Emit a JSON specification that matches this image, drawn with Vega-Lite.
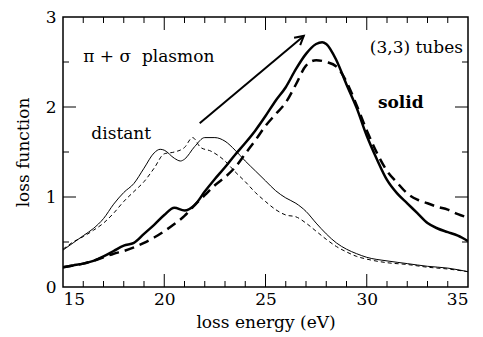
{
  "$schema": "https://vega.github.io/schema/vega-lite/v6.json",
  "width": 405,
  "height": 270,
  "autosize": "none",
  "padding": {"left": 63, "top": 17, "right": 15, "bottom": 50},
  "background": "white",
  "config": {
    "view": {"stroke": "black", "strokeWidth": 1.5},
    "axis": {"grid": false, "domain": false, "ticks": false, "labelColor": "black", "titleColor": "black", "labelFont": "DejaVu Serif", "titleFont": "DejaVu Serif", "labelFontSize": 17, "titleFontSize": 17, "titleFontWeight": "normal"}
  },
  "datasets": {
    "curves": [
      {"x":15,"y":0.22,"s":"solid"},{"x":15.5,"y":0.24,"s":"solid"},{"x":16,"y":0.26,"s":"solid"},{"x":16.5,"y":0.29,"s":"solid"},{"x":17,"y":0.34,"s":"solid"},{"x":17.5,"y":0.40,"s":"solid"},{"x":18,"y":0.46,"s":"solid"},{"x":18.5,"y":0.49,"s":"solid"},{"x":19,"y":0.59,"s":"solid"},{"x":19.5,"y":0.69,"s":"solid"},{"x":20,"y":0.80,"s":"solid"},{"x":20.5,"y":0.88,"s":"solid"},{"x":21,"y":0.85,"s":"solid"},{"x":21.5,"y":0.91,"s":"solid"},{"x":22,"y":1.06,"s":"solid"},{"x":22.5,"y":1.20,"s":"solid"},{"x":23,"y":1.33,"s":"solid"},{"x":23.5,"y":1.47,"s":"solid"},{"x":24,"y":1.60,"s":"solid"},{"x":24.5,"y":1.74,"s":"solid"},{"x":25,"y":1.90,"s":"solid"},{"x":25.5,"y":2.07,"s":"solid"},{"x":26,"y":2.22,"s":"solid"},{"x":26.5,"y":2.42,"s":"solid"},{"x":27,"y":2.59,"s":"solid"},{"x":27.5,"y":2.70,"s":"solid"},{"x":27.8,"y":2.72,"s":"solid"},{"x":28,"y":2.70,"s":"solid"},{"x":28.5,"y":2.52,"s":"solid"},{"x":29,"y":2.25,"s":"solid"},{"x":29.5,"y":1.99,"s":"solid"},{"x":30,"y":1.68,"s":"solid"},{"x":30.5,"y":1.42,"s":"solid"},{"x":31,"y":1.19,"s":"solid"},{"x":31.5,"y":1.04,"s":"solid"},{"x":32,"y":0.93,"s":"solid"},{"x":32.5,"y":0.82,"s":"solid"},{"x":33,"y":0.71,"s":"solid"},{"x":33.5,"y":0.65,"s":"solid"},{"x":34,"y":0.61,"s":"solid"},{"x":34.5,"y":0.57,"s":"solid"},{"x":35,"y":0.51,"s":"solid"},
      {"x":15,"y":0.22,"s":"solid2"},{"x":15.5,"y":0.24,"s":"solid2"},{"x":16,"y":0.26,"s":"solid2"},{"x":16.5,"y":0.29,"s":"solid2"},{"x":17,"y":0.33,"s":"solid2"},{"x":17.5,"y":0.37,"s":"solid2"},{"x":18,"y":0.40,"s":"solid2"},{"x":18.5,"y":0.44,"s":"solid2"},{"x":19,"y":0.49,"s":"solid2"},{"x":19.5,"y":0.55,"s":"solid2"},{"x":20,"y":0.62,"s":"solid2"},{"x":20.5,"y":0.70,"s":"solid2"},{"x":21,"y":0.79,"s":"solid2"},{"x":21.5,"y":0.91,"s":"solid2"},{"x":22,"y":1.02,"s":"solid2"},{"x":22.5,"y":1.13,"s":"solid2"},{"x":23,"y":1.22,"s":"solid2"},{"x":23.5,"y":1.33,"s":"solid2"},{"x":24,"y":1.48,"s":"solid2"},{"x":24.5,"y":1.63,"s":"solid2"},{"x":25,"y":1.79,"s":"solid2"},{"x":25.5,"y":1.92,"s":"solid2"},{"x":26,"y":2.05,"s":"solid2"},{"x":26.5,"y":2.25,"s":"solid2"},{"x":27,"y":2.46,"s":"solid2"},{"x":27.5,"y":2.52,"s":"solid2"},{"x":28,"y":2.50,"s":"solid2"},{"x":28.5,"y":2.45,"s":"solid2"},{"x":29,"y":2.28,"s":"solid2"},{"x":29.5,"y":2.02,"s":"solid2"},{"x":30,"y":1.74,"s":"solid2"},{"x":30.5,"y":1.49,"s":"solid2"},{"x":31,"y":1.29,"s":"solid2"},{"x":31.5,"y":1.16,"s":"solid2"},{"x":32,"y":1.04,"s":"solid2"},{"x":32.5,"y":0.97,"s":"solid2"},{"x":33,"y":0.93,"s":"solid2"},{"x":33.5,"y":0.89,"s":"solid2"},{"x":34,"y":0.86,"s":"solid2"},{"x":34.5,"y":0.81,"s":"solid2"},{"x":35,"y":0.77,"s":"solid2"},
      {"x":15,"y":0.41,"s":"distant"},{"x":15.5,"y":0.49,"s":"distant"},{"x":16,"y":0.57,"s":"distant"},{"x":16.5,"y":0.65,"s":"distant"},{"x":17,"y":0.76,"s":"distant"},{"x":17.5,"y":0.92,"s":"distant"},{"x":18,"y":1.05,"s":"distant"},{"x":18.5,"y":1.15,"s":"distant"},{"x":19,"y":1.32,"s":"distant"},{"x":19.5,"y":1.49,"s":"distant"},{"x":19.8,"y":1.53,"s":"distant"},{"x":20,"y":1.52,"s":"distant"},{"x":20.5,"y":1.43,"s":"distant"},{"x":20.8,"y":1.40,"s":"distant"},{"x":21,"y":1.42,"s":"distant"},{"x":21.5,"y":1.56,"s":"distant"},{"x":22,"y":1.66,"s":"distant"},{"x":22.5,"y":1.66,"s":"distant"},{"x":23,"y":1.62,"s":"distant"},{"x":23.5,"y":1.52,"s":"distant"},{"x":24,"y":1.40,"s":"distant"},{"x":24.5,"y":1.29,"s":"distant"},{"x":25,"y":1.18,"s":"distant"},{"x":25.5,"y":1.07,"s":"distant"},{"x":26,"y":0.99,"s":"distant"},{"x":26.5,"y":0.93,"s":"distant"},{"x":27,"y":0.84,"s":"distant"},{"x":27.5,"y":0.71,"s":"distant"},{"x":28,"y":0.59,"s":"distant"},{"x":28.5,"y":0.49,"s":"distant"},{"x":29,"y":0.42,"s":"distant"},{"x":29.5,"y":0.37,"s":"distant"},{"x":30,"y":0.33,"s":"distant"},{"x":31,"y":0.29,"s":"distant"},{"x":32,"y":0.26,"s":"distant"},{"x":33,"y":0.23,"s":"distant"},{"x":34,"y":0.21,"s":"distant"},{"x":35,"y":0.17,"s":"distant"},
      {"x":15,"y":0.42,"s":"distant2"},{"x":15.5,"y":0.50,"s":"distant2"},{"x":16,"y":0.56,"s":"distant2"},{"x":16.5,"y":0.63,"s":"distant2"},{"x":17,"y":0.71,"s":"distant2"},{"x":17.5,"y":0.82,"s":"distant2"},{"x":18,"y":0.95,"s":"distant2"},{"x":18.5,"y":1.06,"s":"distant2"},{"x":19,"y":1.17,"s":"distant2"},{"x":19.5,"y":1.32,"s":"distant2"},{"x":20,"y":1.48,"s":"distant2"},{"x":20.5,"y":1.50,"s":"distant2"},{"x":21,"y":1.55,"s":"distant2"},{"x":21.4,"y":1.66,"s":"distant2"},{"x":21.8,"y":1.55,"s":"distant2"},{"x":22.3,"y":1.51,"s":"distant2"},{"x":23,"y":1.40,"s":"distant2"},{"x":23.5,"y":1.28,"s":"distant2"},{"x":24,"y":1.17,"s":"distant2"},{"x":24.5,"y":1.05,"s":"distant2"},{"x":25,"y":0.95,"s":"distant2"},{"x":25.5,"y":0.86,"s":"distant2"},{"x":26,"y":0.80,"s":"distant2"},{"x":26.5,"y":0.78,"s":"distant2"},{"x":27,"y":0.71,"s":"distant2"},{"x":27.5,"y":0.62,"s":"distant2"},{"x":28,"y":0.53,"s":"distant2"},{"x":28.5,"y":0.45,"s":"distant2"},{"x":29,"y":0.39,"s":"distant2"},{"x":29.5,"y":0.34,"s":"distant2"},{"x":30,"y":0.31,"s":"distant2"},{"x":31,"y":0.27,"s":"distant2"},{"x":32,"y":0.25,"s":"distant2"},{"x":33,"y":0.22,"s":"distant2"},{"x":34,"y":0.20,"s":"distant2"},{"x":35,"y":0.17,"s":"distant2"}
    ],
    "xMajor": [{"x":20,"y":0},{"x":25,"y":0},{"x":30,"y":0},{"x":20,"y":3},{"x":25,"y":3},{"x":30,"y":3}],
    "xMinor": [{"x":16,"y":0},{"x":17,"y":0},{"x":18,"y":0},{"x":19,"y":0},{"x":21,"y":0},{"x":22,"y":0},{"x":23,"y":0},{"x":24,"y":0},{"x":26,"y":0},{"x":27,"y":0},{"x":28,"y":0},{"x":29,"y":0},{"x":31,"y":0},{"x":32,"y":0},{"x":33,"y":0},{"x":34,"y":0},
               {"x":16,"y":3},{"x":17,"y":3},{"x":18,"y":3},{"x":19,"y":3},{"x":21,"y":3},{"x":22,"y":3},{"x":23,"y":3},{"x":24,"y":3},{"x":26,"y":3},{"x":27,"y":3},{"x":28,"y":3},{"x":29,"y":3},{"x":31,"y":3},{"x":32,"y":3},{"x":33,"y":3},{"x":34,"y":3}],
    "yMajor": [{"x":15,"y":1},{"x":15,"y":2},{"x":35,"y":1},{"x":35,"y":2}],
    "yMinor": [{"x":15,"y":0.5},{"x":15,"y":1.5},{"x":15,"y":2.5},{"x":35,"y":0.5},{"x":35,"y":1.5},{"x":35,"y":2.5}],
    "arrow": [{"x": 21.75, "y": 1.82, "x2": 26.89, "y2": 2.79}],
    "notes": [
      {"x": 16.0, "y": 2.56, "label": "π + σ\u00a0\u00a0plasmon"},
      {"x": 16.4, "y": 1.70, "label": "distant"}
    ],
    "notesRight": [{"x": 34.75, "y": 2.66, "label": "(3,3) tubes"}],
    "notesBold": [{"x": 30.55, "y": 2.05, "label": "solid"}]
  },
  "layer": [
    {
      "data": {"name": "curves"},
      "transform": [{"filter": "datum.s === 'solid'"}],
      "mark": {"type": "line", "color": "black", "strokeWidth": 2.5, "interpolate": "monotone", "clip": true},
      "encoding": {
        "x": {"field": "x", "type": "quantitative", "scale": {"domain": [15, 35], "nice": false},
              "axis": {"orient": "bottom", "values": [15, 20, 25, 30, 35], "format": "d", "labelPadding": 4, "title": "loss energy (eV)", "titlePadding": 7}},
        "y": {"field": "y", "type": "quantitative", "scale": {"domain": [0, 3], "nice": false},
              "axis": {"orient": "left", "values": [0, 1, 2, 3], "format": "d", "labelPadding": 7, "title": "loss function", "titlePadding": 13}}
      }
    },
    {
      "data": {"name": "curves"},
      "transform": [{"filter": "datum.s === 'solid2'"}],
      "mark": {"type": "line", "color": "black", "strokeWidth": 2.5, "strokeDash": [10, 6], "interpolate": "monotone", "clip": true},
      "encoding": {"x": {"field": "x", "type": "quantitative"}, "y": {"field": "y", "type": "quantitative"}}
    },
    {
      "data": {"name": "curves"},
      "transform": [{"filter": "datum.s === 'distant'"}],
      "mark": {"type": "line", "color": "black", "strokeWidth": 1, "interpolate": "monotone", "clip": true},
      "encoding": {"x": {"field": "x", "type": "quantitative"}, "y": {"field": "y", "type": "quantitative"}}
    },
    {
      "data": {"name": "curves"},
      "transform": [{"filter": "datum.s === 'distant2'"}],
      "mark": {"type": "line", "color": "black", "strokeWidth": 1, "strokeDash": [4, 3], "interpolate": "monotone", "clip": true},
      "encoding": {"x": {"field": "x", "type": "quantitative"}, "y": {"field": "y", "type": "quantitative"}}
    },
    {
      "data": {"name": "xMajor"},
      "transform": [{"filter": "datum.y === 0"}],
      "mark": {"type": "point", "shape": "M 0 0 L 0 -1", "filled": false, "stroke": "black", "strokeWidth": 1, "size": 676, "opacity": 1},
      "encoding": {"x": {"field": "x", "type": "quantitative"}, "y": {"field": "y", "type": "quantitative"}}
    },
    {
      "data": {"name": "xMajor"},
      "transform": [{"filter": "datum.y === 3"}],
      "mark": {"type": "point", "shape": "M 0 0 L 0 1", "filled": false, "stroke": "black", "strokeWidth": 1, "size": 676, "opacity": 1},
      "encoding": {"x": {"field": "x", "type": "quantitative"}, "y": {"field": "y", "type": "quantitative"}}
    },
    {
      "data": {"name": "xMinor"},
      "transform": [{"filter": "datum.y === 0"}],
      "mark": {"type": "point", "shape": "M 0 0 L 0 -1", "filled": false, "stroke": "black", "strokeWidth": 1, "size": 144, "opacity": 1},
      "encoding": {"x": {"field": "x", "type": "quantitative"}, "y": {"field": "y", "type": "quantitative"}}
    },
    {
      "data": {"name": "xMinor"},
      "transform": [{"filter": "datum.y === 3"}],
      "mark": {"type": "point", "shape": "M 0 0 L 0 1", "filled": false, "stroke": "black", "strokeWidth": 1, "size": 144, "opacity": 1},
      "encoding": {"x": {"field": "x", "type": "quantitative"}, "y": {"field": "y", "type": "quantitative"}}
    },
    {
      "data": {"name": "yMajor"},
      "transform": [{"filter": "datum.x === 15"}],
      "mark": {"type": "point", "shape": "M 0 0 L 1 0", "filled": false, "stroke": "black", "strokeWidth": 1, "size": 676, "opacity": 1},
      "encoding": {"x": {"field": "x", "type": "quantitative"}, "y": {"field": "y", "type": "quantitative"}}
    },
    {
      "data": {"name": "yMajor"},
      "transform": [{"filter": "datum.x === 35"}],
      "mark": {"type": "point", "shape": "M 0 0 L -1 0", "filled": false, "stroke": "black", "strokeWidth": 1, "size": 676, "opacity": 1},
      "encoding": {"x": {"field": "x", "type": "quantitative"}, "y": {"field": "y", "type": "quantitative"}}
    },
    {
      "data": {"name": "yMinor"},
      "transform": [{"filter": "datum.x === 15"}],
      "mark": {"type": "point", "shape": "M 0 0 L 1 0", "filled": false, "stroke": "black", "strokeWidth": 1, "size": 144, "opacity": 1},
      "encoding": {"x": {"field": "x", "type": "quantitative"}, "y": {"field": "y", "type": "quantitative"}}
    },
    {
      "data": {"name": "yMinor"},
      "transform": [{"filter": "datum.x === 35"}],
      "mark": {"type": "point", "shape": "M 0 0 L -1 0", "filled": false, "stroke": "black", "strokeWidth": 1, "size": 144, "opacity": 1},
      "encoding": {"x": {"field": "x", "type": "quantitative"}, "y": {"field": "y", "type": "quantitative"}}
    },
    {
      "data": {"name": "arrow"},
      "mark": {"type": "rule", "color": "black", "strokeWidth": 2},
      "encoding": {
        "x": {"field": "x", "type": "quantitative"},
        "y": {"field": "y", "type": "quantitative"},
        "x2": {"field": "x2"},
        "y2": {"field": "y2"}
      }
    },
    {
      "data": {"name": "arrow"},
      "mark": {"type": "point", "shape": "M -0.55 1 L 0 0 L 0.55 1", "filled": false, "stroke": "black", "strokeWidth": 2, "angle": 50, "size": 300, "opacity": 1},
      "encoding": {"x": {"field": "x2", "type": "quantitative"}, "y": {"field": "y2", "type": "quantitative"}}
    },
    {
      "data": {"name": "notes"},
      "mark": {"type": "text", "align": "left", "baseline": "middle", "font": "DejaVu Serif", "fontSize": 17, "color": "black"},
      "encoding": {"x": {"field": "x", "type": "quantitative"}, "y": {"field": "y", "type": "quantitative"}, "text": {"field": "label"}}
    },
    {
      "data": {"name": "notesRight"},
      "mark": {"type": "text", "align": "right", "baseline": "middle", "font": "DejaVu Serif", "fontSize": 17, "color": "black"},
      "encoding": {"x": {"field": "x", "type": "quantitative"}, "y": {"field": "y", "type": "quantitative"}, "text": {"field": "label"}}
    },
    {
      "data": {"name": "notesBold"},
      "mark": {"type": "text", "align": "left", "baseline": "middle", "font": "DejaVu Serif", "fontSize": 17, "fontWeight": "bold", "color": "black"},
      "encoding": {"x": {"field": "x", "type": "quantitative"}, "y": {"field": "y", "type": "quantitative"}, "text": {"field": "label"}}
    }
  ]
}
